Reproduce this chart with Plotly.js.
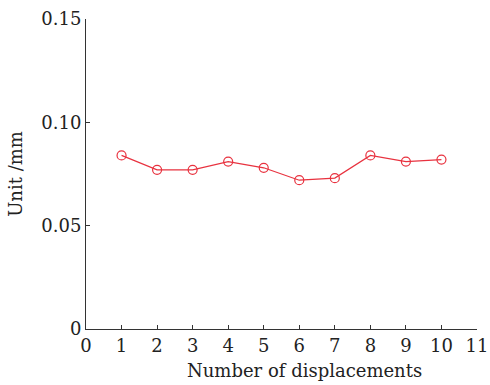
<!DOCTYPE html>
<html><head><meta charset="utf-8">
<script src="https://cdn.plot.ly/plotly-3.0.1.min.js"></script>
<style>html,body{margin:0;padding:0;background:#fff}#c{width:490px;height:385px}</style>
</head><body><div id="c"></div>
<script>
const displacements = [1,2,3,4,5,6,7,8,9,10];
const unitMm = [0.084,0.077,0.077,0.081,0.078,0.072,0.073,0.084,0.081,0.082];
const xTicks = [0,1,2,3,4,5,6,7,8,9,10,11];
const yTicks = [0,0.05,0.10,0.15];
const yTickText = ['0','0.05','0.10','0.15'];
const xTitle = 'Number of displacements';
const yTitle = 'Unit /mm';
const font = {family:'DejaVu Serif, Liberation Serif, serif', size:18, color:'#222'};
Plotly.newPlot('c',[{
  x:displacements, y:unitMm, type:'scatter', mode:'lines+markers',
  line:{color:'#e8323f', width:1.2},
  marker:{symbol:'circle-open', size:9, color:'#e8323f', line:{width:1.2}}
}],{
  width:490,height:385,
  margin:{l:86,r:13,t:19,b:56},
  paper_bgcolor:'#fff',plot_bgcolor:'#fff',
  font:font,showlegend:false,
  xaxis:{range:[0,11],tickvals:xTicks,ticks:'inside',ticklen:4,tickcolor:'#333',
    showline:true,linecolor:'#333',linewidth:1,showgrid:false,zeroline:false,
    tickfont:font},
  yaxis:{range:[0,0.15],tickvals:yTicks,ticktext:yTickText,ticks:'inside',ticklen:4,tickcolor:'#333',
    showline:true,linecolor:'#333',linewidth:1,showgrid:false,zeroline:false,
    tickfont:font,title:{text:yTitle,font:font,standoff:14}},
  annotations:[{text:xTitle,xref:'paper',yref:'paper',x:0.56,y:0,xanchor:'center',yanchor:'top',
    yshift:-29,showarrow:false,font:font}]
},{staticPlot:true});
</script></body></html>
